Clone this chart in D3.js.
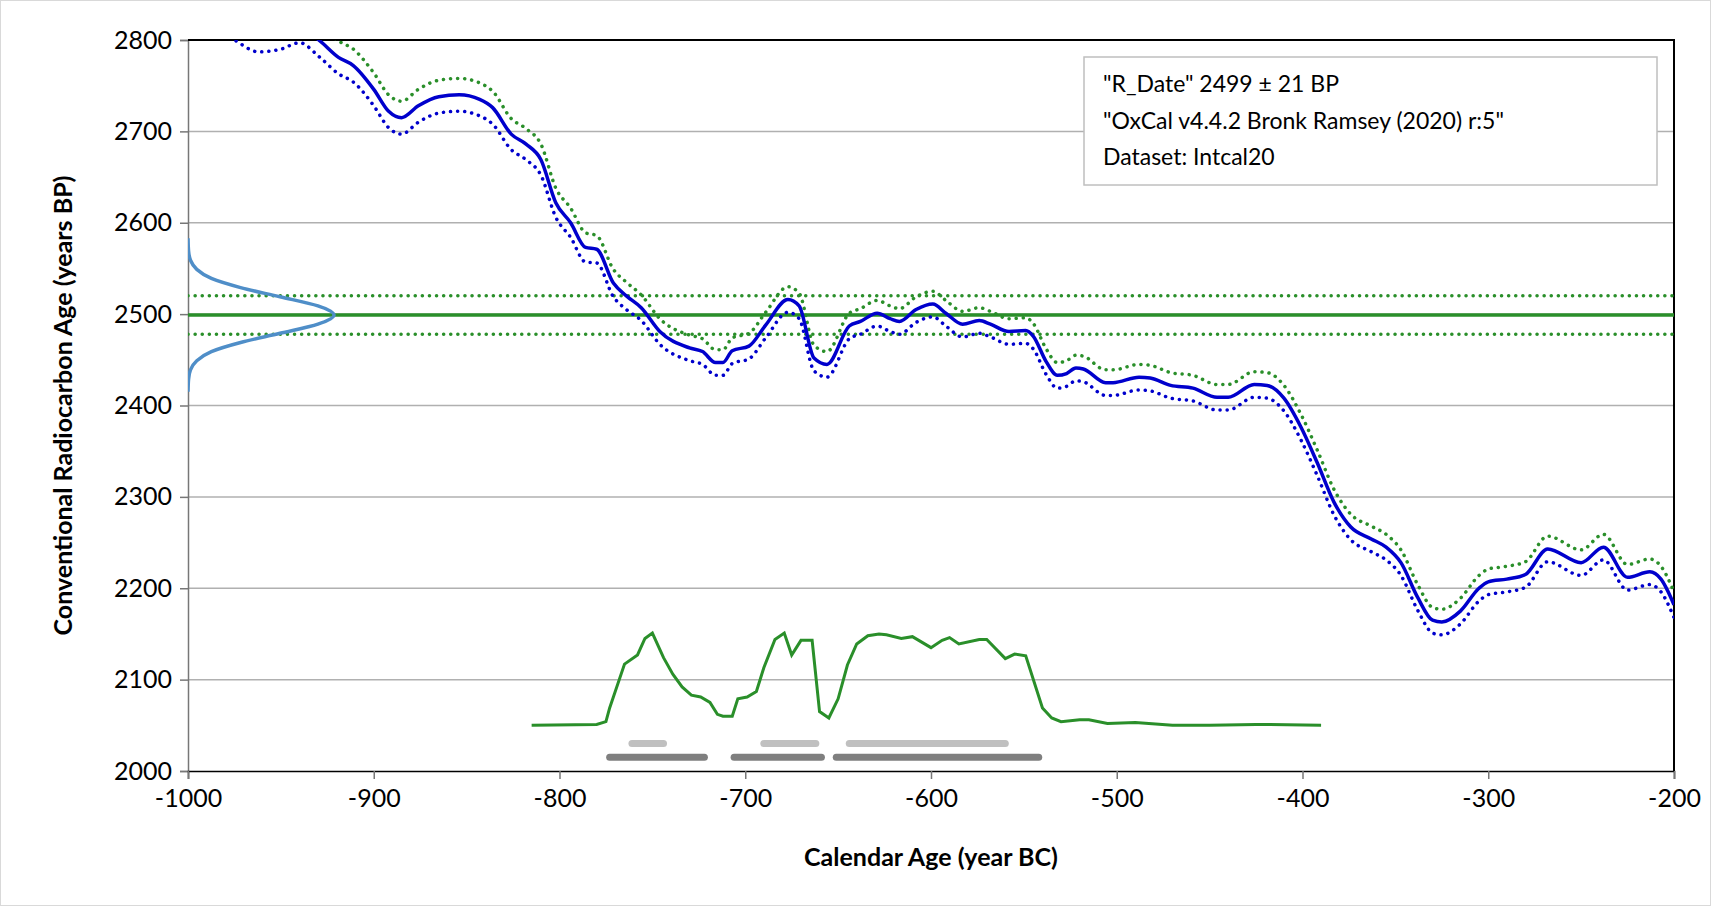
<!DOCTYPE html>
<html><head><meta charset="utf-8">
<script src="https://cdn.jsdelivr.net/npm/d3@7"></script>
<style>body{margin:0;background:#fff}text{font-family:Lato,"Open Sans",sans-serif}</style>
</head><body><svg id="c" width="1717" height="908"></svg>
<script>
// calibration curve (IntCal20)
const calYear = [-1000,-975,-962,-950,-940,-929,-919,-911,-900,-892,-885,-876,-865,-854,-843,-836,-826,-818,-810,-802,-794,-786,-780,-771,-764,-756,-746,-730,-723,-716,-712,-707,-698,-689,-677,-671,-663,-656,-644,-638,-629,-622,-617,-608,-599,-592,-583,-574,-568,-558,-549,-545,-538,-532,-527,-522,-518,-506,-502,-488,-482,-471,-459,-446,-440,-426,-419,-410,-401,-392,-383,-374,-363,-355,-347,-338,-330,-325,-315,-305,-300,-290,-280,-268,-250,-238,-225,-213,-207,-200];
const calBP = [2850,2818,2805,2808,2815,2799,2781,2772,2746,2722,2715,2728,2738,2740,2735,2726,2697,2686,2669,2622,2600,2573,2571,2534,2520,2507,2481,2463,2459,2447,2447,2460,2465,2488,2516,2509,2452,2445,2487,2492,2501,2495,2492,2505,2511,2501,2489,2493,2489,2481,2482,2476,2448,2433,2435,2441,2440,2425,2425,2431,2430,2422,2419,2409,2409,2423,2422,2408,2377,2337,2294,2267,2254,2245,2228,2190,2165,2163,2175,2200,2207,2210,2215,2243,2228,2245,2212,2218,2210,2182];
const calErr = [18,18,18,18,18,18,18,18,18,18,18,18,18,18,18,18,17,17,17,16,16,16,15,15,15,14,14,14,14,14,14,14,14,14,14,14,14,14,14,14,14,14,14,14,14,14,14,14,14,14,14,14,14,14,14,14,14,14,14,14,14,14,14,14,14,14,14,14,14,14,14,14,14,14,14,14,14,14,14,14,14,14,14,14,14,14,14,14,14,14];
// radiocarbon date
const rDate = 2499, rErr = 21;
// measured distribution shape: offset from mean (BP) and relative height
const distOff = [0,10,20,30,40,50,60,70,84];
const distH = [1,0.89,0.63,0.36,0.16,0.06,0.017,0.004,0];
// calibrated probability curve
const probYear = [-815,-780,-775,-773,-765,-758,-754,-750,-744,-739,-734,-729,-724,-719,-715,-712,-707,-704,-699,-694,-690,-684,-679,-675,-670,-664,-660,-655,-650,-645,-640,-634,-628,-624,-616,-610,-600,-594,-590,-585,-574,-570,-560,-555,-549,-540,-535,-530,-520,-515,-505,-490,-470,-450,-425,-390];
const probBP = [2050,2051,2054,2069,2117,2127,2145,2151,2124,2106,2092,2083,2081,2075,2062,2060,2060,2079,2081,2087,2113,2144,2151,2127,2143,2143,2065,2058,2079,2116,2139,2148,2150,2149,2145,2147,2135,2143,2146,2139,2144,2144,2123,2128,2126,2069,2058,2054,2056,2056,2052,2053,2050,2050,2051,2050];
// ranges
const range68 = [[-761,-744],[-690,-662],[-644,-560]];
const range95 = [[-773,-722],[-706,-659],[-651,-542]];
const xTicks = [-1000,-900,-800,-700,-600,-500,-400,-300,-200];
const yTicks = [2000,2100,2200,2300,2400,2500,2600,2700,2800];
const legendLines = ['"R_Date" 2499 ± 21 BP','"OxCal v4.4.2 Bronk Ramsey (2020) r:5"','Dataset: Intcal20'];

const L = 188, R = 1674, T = 40, B = 771;
const svg = d3.select("#c");
const x = d3.scaleLinear().domain([-1000,-200]).range([L,R]);
const y = d3.scaleLinear().domain([2000,2800]).range([B,T]);
const blue = "#0000cc", green = "#2a8f2a";

svg.append("rect").attr("x",0.5).attr("y",0.5).attr("width",1710).attr("height",905)
  .attr("fill","none").attr("stroke","#d9d9d9");

svg.append("defs").append("clipPath").attr("id","clip")
  .append("rect").attr("x",L).attr("y",T).attr("width",R-L).attr("height",B-T);

// grid
svg.append("g").selectAll("line").data(yTicks.slice(1,-1)).join("line")
  .attr("x1",L).attr("x2",R).attr("y1",d=>y(d)).attr("y2",d=>y(d))
  .attr("stroke","#b0b0b0").attr("stroke-width",1.5);

const yAxis = svg.append("g").attr("transform",`translate(${L},0)`)
  .call(d3.axisLeft(y).tickValues(yTicks).tickFormat(d=>String(d)).tickSize(8).tickPadding(8));
const xAxis = svg.append("g").attr("transform",`translate(0,${B})`)
  .call(d3.axisBottom(x).tickValues(xTicks).tickFormat(d=>String(d)).tickSize(8).tickPadding(10));
[yAxis,xAxis].forEach(a=>{
  a.select(".domain").attr("stroke","#777").attr("stroke-width",1.5);
  a.selectAll(".tick line").attr("stroke","#777").attr("stroke-width",1.5);
  a.selectAll("text").attr("font-size",25).attr("fill","#000");
});
xAxis.select(".domain").attr("stroke","#000");
// top and right border
svg.append("path").attr("d",`M${L},${T}H${R}V${B}`).attr("fill","none").attr("stroke","#000").attr("stroke-width",2);

const g = svg.append("g").attr("clip-path","url(#clip)");
const idx = d3.range(calYear.length);
const line = acc => d3.line().x(i=>x(calYear[i])).y(acc).curve(d3.curveMonotoneX);
const dotted = (sel,col)=>sel.attr("fill","none").attr("stroke",col).attr("stroke-width",3.5)
  .attr("stroke-dasharray","0.1,7").attr("stroke-linecap","round");

// date lines
g.append("line").attr("x1",L).attr("x2",R).attr("y1",y(rDate)).attr("y2",y(rDate))
  .attr("stroke",green).attr("stroke-width",3.5);
[rDate+rErr,rDate-rErr].forEach(v=>dotted(g.append("line").attr("x1",L).attr("x2",R)
  .attr("y1",y(v)).attr("y2",y(v)),green));

dotted(g.append("path").attr("d",line(i=>y(calBP[i]+calErr[i]))(idx)),green);
dotted(g.append("path").attr("d",line(i=>y(calBP[i]-calErr[i]))(idx)),blue);
g.append("path").attr("d",line(i=>y(calBP[i]))(idx)).attr("fill","none")
  .attr("stroke",blue).attr("stroke-width",3.5);

// distribution on the y-axis
const distW = 146;
const distPts = [];
for (let k=distOff.length-1;k>=0;k--) distPts.push([rDate+distOff[k],distH[k]]);
for (let k=1;k<distOff.length;k++) distPts.push([rDate-distOff[k],distH[k]]);
g.append("path").attr("d",d3.line().x(p=>L+p[1]*distW).y(p=>y(p[0])).curve(d3.curveMonotoneY)(distPts))
  .attr("fill","none").attr("stroke","#4f8ec8").attr("stroke-width",3.5);

// probability
g.append("path").attr("d",d3.line().x((d,i)=>x(probYear[i])).y(d=>y(d))(probBP))
  .attr("fill","none").attr("stroke",green).attr("stroke-width",3);

g.selectAll(".r68").data(range68).join("line").attr("x1",d=>x(d[0])).attr("x2",d=>x(d[1]))
  .attr("y1",y(2030)).attr("y2",y(2030)).attr("stroke","#c0c0c0").attr("stroke-width",7).attr("stroke-linecap","round");
g.selectAll(".r95").data(range95).join("line").attr("x1",d=>x(d[0])).attr("x2",d=>x(d[1]))
  .attr("y1",y(2015)).attr("y2",y(2015)).attr("stroke","#7f7f7f").attr("stroke-width",7).attr("stroke-linecap","round");

// legend
svg.append("rect").attr("x",1084).attr("y",57).attr("width",573).attr("height",128)
  .attr("fill","#fff").attr("stroke","#bfbfbf").attr("stroke-width",1.5);
svg.selectAll(".lg").data(legendLines).join("text").attr("x",1103).attr("y",(d,i)=>92+i*36.5)
  .attr("font-size",23).text(d=>d);

// titles
svg.append("text").attr("x",(L+R)/2).attr("y",866).attr("text-anchor","middle")
  .attr("font-size",25).attr("font-weight","bold").text("Calendar Age (year BC)");
svg.append("text").attr("transform",`translate(72,${(T+B)/2}) rotate(-90)`).attr("text-anchor","middle")
  .attr("font-size",25).attr("font-weight","bold").text("Conventional Radiocarbon Age (years BP)");
</script></body></html>
